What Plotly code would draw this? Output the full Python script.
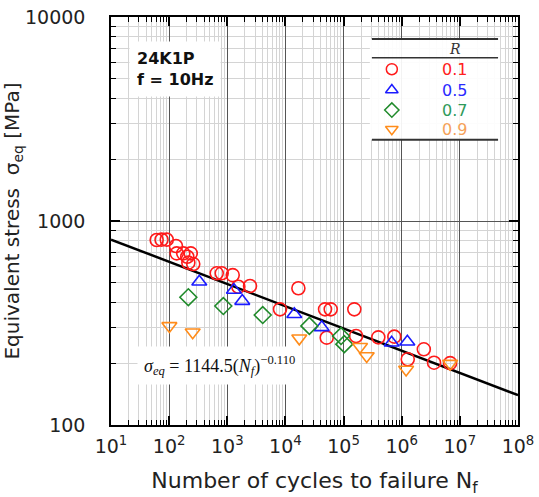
import plotly.graph_objects as go

# ---- data ----
r01_N = [61, 74, 91, 131, 135, 175, 235, 205, 260, 214, 658, 802, 1240, 2460, 1550, 8070, 16700,
         48000, 60100, 153000, 51300, 164000, 396000, 746000, 2.4e6, 1.27e6, 3.6e6, 6.8e6]
r01_S = [807, 810, 810, 754, 694, 694, 694, 668, 615, 625, 554, 554, 543, 480, 476, 369, 468,
         369, 369, 369, 268, 273, 269, 271, 235, 210, 202, 201]
r05_N = [330, 1300, 1810, 14200, 42100, 671000, 1.25e6]
r05_S = [504, 459, 405, 349, 301, 253, 256]
r07_N = [214, 855, 4070, 25800, 90400, 103000]
r07_S = [423, 383, 346, 306, 273, 249]
r09_N = [101, 254, 17300, 192000, 250000, 1.19e6, 6.8e6]
r09_S = [306, 285, 266, 242, 218, 187, 200]
fit_N = [10, 1e8]
fit_S = [811, 140]
x_tickvals = [1e1, 1e2, 1e3, 1e4, 1e5, 1e6, 1e7, 1e8]
x_ticktext = ["10<sup>%d</sup>" % i for i in range(1, 9)]
y_tickvals = [100, 1000, 10000]
y_ticktext = ["100", "1000", "10000"]
legend_labels = ["0.1", "0.5", "0.7", "0.9"]

x_minor = [m * 10 ** e for e in range(1, 8) for m in range(2, 10)]
y_minor = [m * 10 ** e for e in range(2, 4) for m in range(2, 10)]

c_red, c_blue, c_green, c_orange = "#ff1a1a", "#1a1aff", "#1f8a2a", "#ff8c1a"
legend_text_colors = ["#ff2020", "#2a2aff", "#2e9a5a", "#f5a25a"]

fig = go.Figure()
fig.add_trace(go.Scatter(x=fit_N, y=fit_S, mode="lines", line=dict(color="black", width=2.5),
                         showlegend=False, hoverinfo="skip"))
series = [
    (r01_N, r01_S, "circle-open", c_red, 13),
    (r05_N, r05_S, "triangle-up-open", c_blue, 13),
    (r07_N, r07_S, "diamond-open", c_green, 13),
    (r09_N, r09_S, "triangle-down-open", c_orange, 13),
]
for xs, ys, sym, col, sz in series:
    fig.add_trace(go.Scatter(x=xs, y=ys, mode="markers",
                             marker=dict(symbol=sym, size=sz, color=col, line=dict(width=1.6, color=col)),
                             showlegend=False))

# legend table drawn on an overlay axis pair spanning 0..1 of the plot area
bx0, bx1, by0, by1 = 0.636, 0.956, 0.699, 0.946
fig.add_trace(go.Scatter(x=[bx0, bx1, bx1, bx0, bx0], y=[by0, by0, by1, by1, by0], xaxis="x2", yaxis="y2",
                         mode="lines", fill="toself", fillcolor="rgba(255,255,255,0.93)",
                         line=dict(width=0, color="rgba(0,0,0,0)"), showlegend=False, hoverinfo="skip"))
for yy, w in [(0.946, 2), (0.900, 1.5), (0.699, 2)]:
    fig.add_trace(go.Scatter(x=[0.641, 0.951], y=[yy, yy], xaxis="x2", yaxis="y2", mode="lines",
                             line=dict(color="#333", width=w), showlegend=False, hoverinfo="skip"))
leg_y = [0.872, 0.821, 0.772, 0.725]
for (xs, ys, sym, col, sz), yy in zip(series, leg_y):
    fig.add_trace(go.Scatter(x=[0.690], y=[yy], xaxis="x2", yaxis="y2", mode="markers",
                             marker=dict(symbol=sym, size=11, color=col, line=dict(width=1.5, color=col)),
                             showlegend=False, hoverinfo="skip"))

annotations = [
    dict(xref="paper", yref="paper", x=0.845, y=0.922, xanchor="center", yanchor="middle",
         text="<i>R</i>", showarrow=False, font=dict(family="DejaVu Serif", size=14, color="#333")),
]
for lab, yy, col in zip(legend_labels, leg_y, legend_text_colors):
    annotations.append(dict(xref="paper", yref="paper", x=0.845, y=yy, xanchor="center", yanchor="middle",
                            text=lab, showarrow=False,
                            font=dict(family="DejaVu Sans", size=16, color=col)))
annotations.append(dict(xref="paper", yref="paper", x=0.045, y=0.873, xanchor="left", yanchor="middle",
                        text="<b>24K1P<br>f = 10Hz</b>", showarrow=False, align="left",
                        bgcolor="white", borderpad=7,
                        font=dict(family="DejaVu Sans", size=16, color="#111")))
annotations.append(dict(xref="paper", yref="paper", x=0.266, y=0.147, xanchor="center", yanchor="middle",
                        text="<i>σ<sub>eq</sub></i> = 1144.5(<i>N<sub>f</sub></i>)<sup>−0.110</sup>",
                        showarrow=False, bgcolor="white", borderpad=6,
                        font=dict(family="Liberation Serif", size=18, color="#111")))

axis_common = dict(type="log", automargin=False, showline=True, linecolor="black", linewidth=1.5,
                   mirror="allticks", ticks="inside", ticklen=9, tickcolor="black", tickwidth=1.5,
                   showgrid=True, gridcolor="#555", gridwidth=1.2,
                   tickfont=dict(family="DejaVu Sans", size=19, color="#222"), zeroline=False)

fig.update_layout(
    width=539, height=497, margin=dict(l=111, r=21, t=17, b=72, autoexpand=False),
    plot_bgcolor="white", paper_bgcolor="white", showlegend=False,
    xaxis=dict(axis_common, range=[1, 8], tickvals=x_tickvals, ticktext=x_ticktext,
               ticklabelstandoff=3,
               minor=dict(tickvals=x_minor, ticks="inside", ticklen=5, tickcolor="black", tickwidth=1,
                          showgrid=True, gridcolor="#d4d4d4", gridwidth=1),
               title=dict(text="Number of cycles to failure N<sub>f</sub>", standoff=20,
                          font=dict(family="DejaVu Sans", size=22, color="#222"))),
    yaxis=dict(axis_common, range=[2, 4], tickvals=y_tickvals, ticktext=y_ticktext,
               ticklabelstandoff=20,
               minor=dict(tickvals=y_minor, ticks="inside", ticklen=5, tickcolor="black", tickwidth=1,
                          showgrid=True, gridcolor="#d4d4d4", gridwidth=1),
               title=dict(text="Equivalent stress  σ<sub>eq</sub> [MPa]", standoff=3,
                          font=dict(family="DejaVu Sans", size=20, color="#222"))),
    xaxis2=dict(overlaying="x", range=[0, 1], visible=False),
    yaxis2=dict(overlaying="y", range=[0, 1], visible=False),
    annotations=annotations,
)
fig.write_html("out.html", config={"displayModeBar": False},
               post_script="document.body.style.margin='0';")
